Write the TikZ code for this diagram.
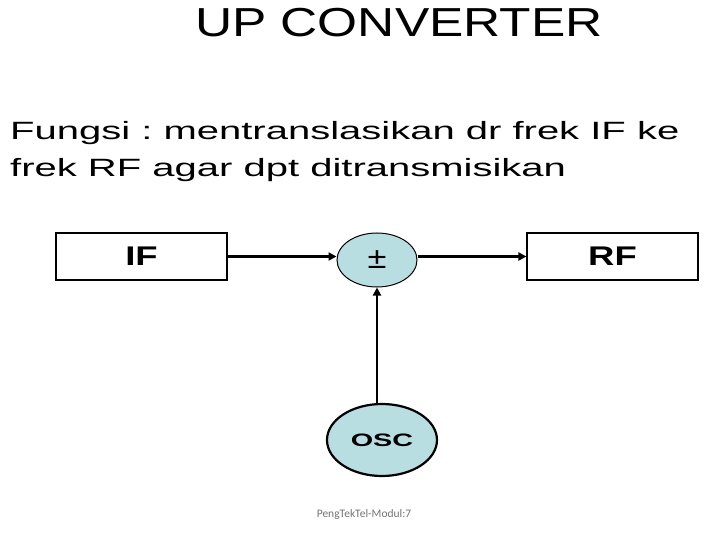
\documentclass[tikz,border=0pt]{standalone}
\usepackage{graphicx}
\usepackage{fontspec}
\setmainfont{Liberation Sans}
\newfontfamily\footfont{Carlito}
\usetikzlibrary{arrows.meta, positioning, shapes.geometric}
\definecolor{mixfill}{RGB}{185,222,226}
\definecolor{footgray}{RGB}{115,115,115}
\frenchspacing
% teks yang melebar (slide direntang horizontal)
\newcommand{\wide}[2]{\scalebox{#1}[1]{#2}}
\tikzset{
  blk/.style={rectangle, draw=black, line width=1.1pt, minimum width=171pt,
              minimum height=47pt, font=\fontsize{27}{29}\selectfont\bfseries},
  % pencampur (+/-)
  mix/.style={ellipse, draw=black, line width=1pt, fill=mixfill, minimum width=80pt,
              minimum height=54pt, inner sep=0pt, font=\fontsize{30}{32}\selectfont},
  % osilator lokal
  osc/.style={ellipse, draw=black, line width=2.2pt, fill=mixfill, minimum width=110pt,
              minimum height=72pt, inner sep=0pt, font=\fontsize{18}{20}\selectfont\bfseries},
  ar/.style={-{Triangle[length=8pt,width=8pt]}, line width=2.6pt},
  txt/.style={anchor=base west, inner sep=0pt, font=\fontsize{25}{25}\selectfont}
}

\begin{document}
\begin{tikzpicture}[x=1pt, y=-1pt]
    \useasboundingbox (0,0) rectangle (720,540);
    \node[anchor=base, inner sep=0pt, font=\fontsize{40.5}{41}\selectfont] (title) at (399,37) {\wide{1.27}{UP CONVERTER}};
    \node[txt] (line1) at (10,140) {\wide{1.6}{Fungsi : mentranslasikan dr frek IF ke}};
    \node[txt] (line2) at (10,177) {\wide{1.6}{frek RF agar dpt ditransmisikan}};

    \node[blk] (if) at (141.5,256.5) {\wide{1.35}{IF}};
    \node[mix] (mix) at (377,260) {\wide{1.15}{±}};
    \node[blk] (rf) at (612.5,256.5) {\wide{1.35}{RF}};
    \node[osc] (osc) at (382,440) {\wide{1.6}{OSC}};

    \draw[ar] (if.east) -- (if.east -| mix.west);
    \draw[ar] (mix.east |- rf.west) -- (rf.west);
    \draw[ar] (mix.south |- osc.north) -- (mix.south);

    \node[font=\footfont\fontsize{11.5}{12}\selectfont, text=footgray] (foot) at (364,514) {PengTekTel-Modul:7};
  \end{tikzpicture}
\end{document}
